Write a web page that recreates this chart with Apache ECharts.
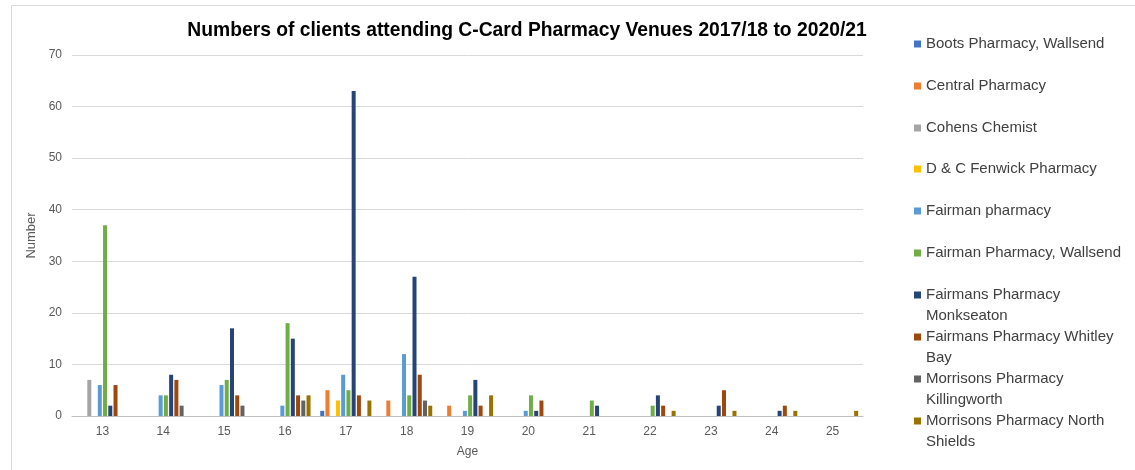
<!DOCTYPE html>
<html>
<head>
<meta charset="utf-8">
<script src="https://cdn.jsdelivr.net/npm/echarts@6/dist/echarts.min.js"></script>
<style>html,body{margin:0;padding:0;background:#fff}#c{width:1135px;height:470px}</style>
</head>
<body>
<div id="c"></div>
<script>
const ages = ['13','14','15','16','17','18','19','20','21','22','23','24','25'];
const seriesNames = ['Boots Pharmacy, Wallsend','Central Pharmacy','Cohens Chemist','D & C Fenwick Pharmacy','Fairman pharmacy','Fairman Pharmacy, Wallsend','Fairmans Pharmacy Monkseaton','Fairmans Pharmacy Whitley Bay','Morrisons Pharmacy Killingworth','Morrisons Pharmacy North Shields'];
const legendLines = [['Boots Pharmacy, Wallsend'],['Central Pharmacy'],['Cohens Chemist'],['D & C Fenwick Pharmacy'],['Fairman pharmacy'],['Fairman Pharmacy, Wallsend'],['Fairmans Pharmacy','Monkseaton'],['Fairmans Pharmacy Whitley','Bay'],['Morrisons Pharmacy','Killingworth'],['Morrisons Pharmacy North','Shields']];
const boots        = [0,0,0,0,1,0,0,0,0,0,0,0,0];
const central      = [0,0,0,0,5,3,2,0,0,0,0,0,0];
const cohens       = [7,0,0,0,0,0,0,0,0,0,0,0,0];
const fenwick      = [0,0,0,0,3,0,0,0,0,0,0,0,0];
const fairman      = [6,4,6,2,8,12,1,1,0,0,0,0,0];
const wallsend     = [37,4,7,18,5,4,4,4,3,2,0,0,0];
const monkseaton   = [2,8,17,15,63,27,7,1,2,4,2,1,0];
const whitleyBay   = [6,7,4,4,4,8,2,3,0,2,5,2,0];
const killingworth = [0,2,2,3,0,3,0,0,0,0,0,0,0];
const northShields = [0,0,0,4,3,2,4,0,0,1,1,1,1];
const yTicks = [0,10,20,30,40,50,60,70];

const allData = [boots,central,cohens,fenwick,fairman,wallsend,monkseaton,whitleyBay,killingworth,northShields];
const colors = ['#4472C4','#ED7D31','#A5A5A5','#FFC000','#5B9BD5','#70AD47','#264478','#9E480E','#636363','#997300'];
const FONT = '"Liberation Sans", Arial, sans-serif';

const chart = echarts.init(document.getElementById('c'), null, {renderer:'canvas'});

const legendCenters = [44,86,128,169,211,253,295,337,379,421];
const LEG_LEFT = 914;
const legends = seriesNames.map((n,i)=>{
  const lines = legendLines[i];
  return {
    orient:'vertical', left: LEG_LEFT, top: legendCenters[i]-9, padding:0,
    itemWidth:7, itemHeight:7, itemGap:0, icon:'rect',
    selectedMode:false,
    formatter: ()=> lines[0],
    textStyle:{fontFamily:FONT, fontSize:15, color:'#404040', lineHeight:18},
    data:[n]
  };
});
const secondLines = [];
legendLines.forEach((lines,i)=>{
  if (lines.length > 1) {
    secondLines.push({type:'text', left: LEG_LEFT+12, top: legendCenters[i]+21-9, silent:true,
      style:{text: lines[1], font: '15px ' + FONT, fill:'#404040', lineHeight:18}});
  }
});

const series = seriesNames.map((n,i)=>({
  name:n, type:'bar', data: allData[i], barWidth:4, barGap:'31%',
  itemStyle:{color:colors[i]}
}));

chart.setOption({
  animation:false,
  backgroundColor:'#fff',
  color: colors,
  title:{
    text:'Numbers of clients attending C-Card Pharmacy Venues 2017/18 to 2020/21',
    left: 522, top: 16, textAlign:'center',
    textStyle:{fontFamily:FONT, fontSize:19.3, fontWeight:'bold', color:'#000'}
  },
  graphic:[{type:'rect', shape:{x:11.5,y:5.5,width:1200,height:600}, style:{fill:'none', stroke:'#d9d9d9', lineWidth:1}, silent:true, z:-10}].concat(secondLines),
  legend: legends,
  grid:{left:72, right:272, top:55, bottom:54, containLabel:false},
  xAxis:{
    type:'category', data: ages,
    name:'Age', nameLocation:'middle', nameGap:30,
    nameTextStyle:{fontFamily:FONT, fontSize:12, color:'#595959'},
    axisLine:{lineStyle:{color:'#bfbfbf'}},
    axisTick:{show:false},
    axisLabel:{fontFamily:FONT, fontSize:12, color:'#595959', margin:10}
  },
  yAxis:{
    type:'value', min:0, max:70, interval:10,
    name:'Number', nameLocation:'middle', nameGap:27,
    nameTextStyle:{fontFamily:FONT, fontSize:13, color:'#595959'},
    axisLine:{show:false}, axisTick:{show:false},
    axisLabel:{fontFamily:FONT, fontSize:12, color:'#595959', margin:10,
      formatter:(v)=> yTicks.includes(v)? String(v):''},
    splitLine:{lineStyle:{color:'#d9d9d9'}}
  },
  series: series
});
</script>
</body>
</html>
